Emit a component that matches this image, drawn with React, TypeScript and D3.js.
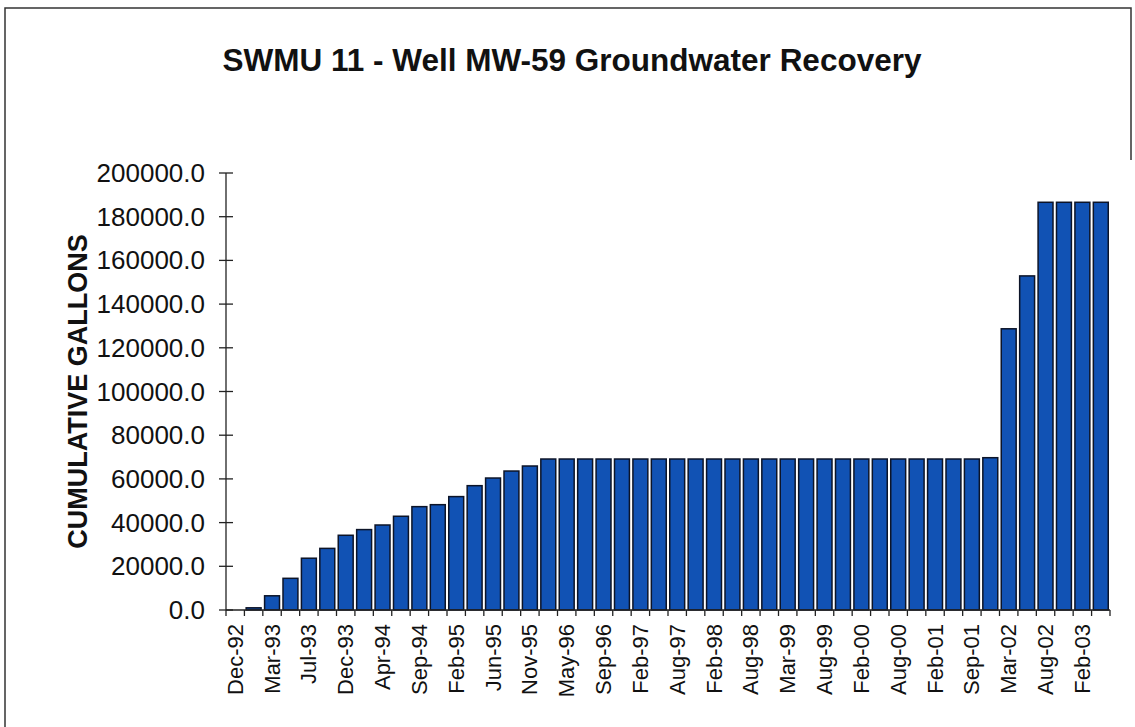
import React from 'react';
import * as d3 from 'd3';

// cumulative gallons, one bar per sampling event (48 events)
const gallons = [
  0, 1000, 6500, 14500, 23700, 28200, 34200, 36800, 38900, 42900,
  47300, 48200, 51900, 56900, 60400, 63600, 65900,
  69100, 69100, 69100, 69100, 69100, 69100, 69100, 69100, 69100, 69100,
  69100, 69100, 69100, 69100, 69100, 69100, 69100, 69100, 69100, 69100,
  69100, 69100, 69100, 69100,
  69700, 128700, 152900, 186600, 186600, 186600, 186600,
];

// labels shown on every other bar
const tickLabels = [
  'Dec-92', 'Mar-93', 'Jul-93', 'Dec-93', 'Apr-94', 'Sep-94', 'Feb-95', 'Jun-95',
  'Nov-95', 'May-96', 'Sep-96', 'Feb-97', 'Aug-97', 'Feb-98', 'Aug-98', 'Mar-99',
  'Aug-99', 'Feb-00', 'Aug-00', 'Feb-01', 'Sep-01', 'Mar-02', 'Aug-02', 'Feb-03',
];

const yTicks = [0, 20000, 40000, 60000, 80000, 100000, 120000, 140000, 160000, 180000, 200000];

const W = 1135;
const H = 727;
const left = 226;
const right = 1110;
const top = 173;
const bottom = 610;

const App: React.FC = () => {
  const x = d3.scaleBand<number>()
    .domain(d3.range(gallons.length))
    .range([left, right])
    .paddingInner(0.19)
    .paddingOuter(0.095);
  const step = x.step();
  const y = d3.scaleLinear().domain([0, 200000]).range([bottom, top]);
  const font = 'Arial, "Liberation Sans", sans-serif';

  return (
    <svg width={W} height={H} style={{ position: 'absolute', left: 0, top: 0, background: '#fff' }}>
      {/* frame */}
      <path d={`M5,${H} V8 H1131 V160`} fill="none" stroke="#333" strokeWidth={1.5} />

      <text x={572} y={71} textAnchor="middle" fontFamily={font} fontWeight="bold" fontSize={31.5} fill="#111">
        SWMU 11 - Well MW-59 Groundwater Recovery
      </text>

      <text transform={`translate(80,${(top + bottom) / 2}) rotate(-90)`} textAnchor="middle"
        fontFamily={font} fontWeight="bold" fontSize={27} fill="#111" dominantBaseline="middle">
        CUMULATIVE GALLONS
      </text>

      {/* bars */}
      {gallons.map((v, i) => (
        v > 0 ? (
          <rect key={i} x={x(i)} y={y(v)} width={x.bandwidth()} height={y(0) - y(v)}
            fill="#1152b4" stroke="#0c1428" strokeWidth={1.5} />
        ) : null
      ))}

      {/* y axis */}
      <line x1={left} x2={left} y1={top} y2={bottom} stroke="#222" strokeWidth={1.3} />
      {yTicks.map(t => (
        <g key={t}>
          <line x1={left - 7} x2={left + 7} y1={y(t)} y2={y(t)} stroke="#222" strokeWidth={1.3} />
          <text x={205} y={y(t)} textAnchor="end" dominantBaseline="central"
            fontFamily={font} fontSize={26} fill="#111">
            {t.toFixed(1)}
          </text>
        </g>
      ))}

      {/* x axis */}
      <line x1={left} x2={right} y1={bottom} y2={bottom} stroke="#222" strokeWidth={1.3} />
      {d3.range(gallons.length + 1).map(i => (
        <line key={i} x1={left + i * step} x2={left + i * step} y1={bottom} y2={bottom + 6}
          stroke="#222" strokeWidth={1.3} />
      ))}
      {tickLabels.map((lab, k) => {
        const cx = (x(k * 2) as number) + x.bandwidth() / 2;
        return (
          <text key={lab} transform={`translate(${cx},${bottom + 14}) rotate(-90)`}
            textAnchor="end" dominantBaseline="central" fontFamily={font} fontSize={22} fill="#111">
            {lab}
          </text>
        );
      })}
    </svg>
  );
};

export default App;
